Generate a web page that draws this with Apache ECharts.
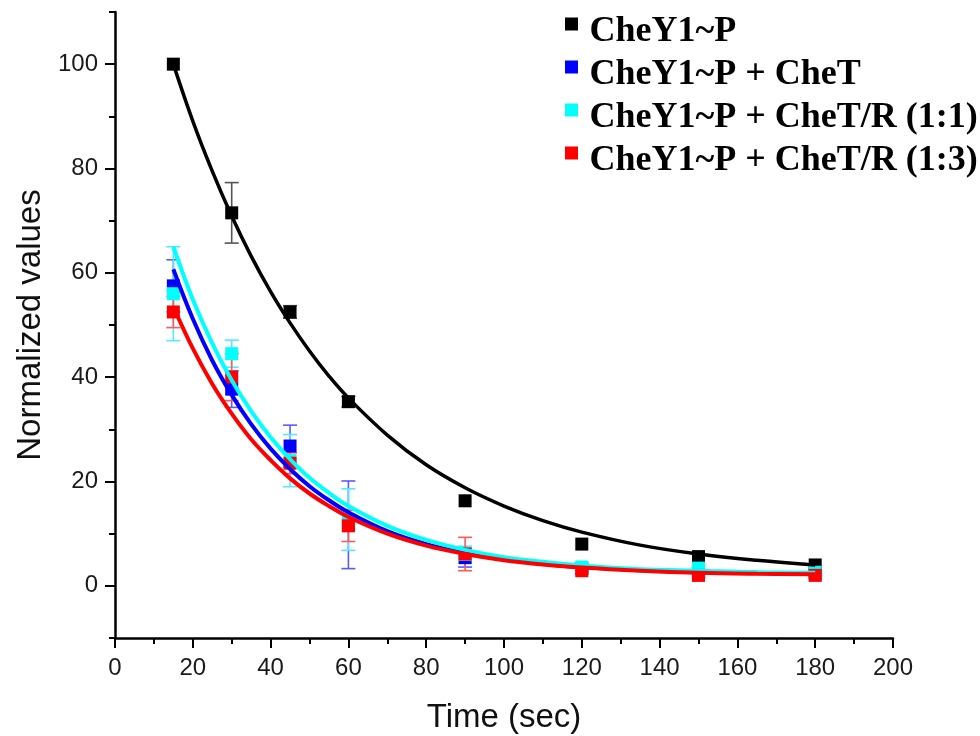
<!DOCTYPE html>
<html>
<head>
<meta charset="utf-8">
<script src="https://cdn.jsdelivr.net/npm/echarts@6/dist/echarts.min.js"></script>
<style>
html,body{margin:0;padding:0;background:#fff;}
#chart{width:980px;height:736px;}
</style>
</head>
<body>
<div id="chart"></div>
<script>
// ---- data ----
const seriesNames = ['CheY1~P', 'CheY1~P + CheT', 'CheY1~P + CheT/R (1:1)', 'CheY1~P + CheT/R (1:3)'];
const timePoints = [15, 30, 45, 60, 90, 120, 150, 180];

const blackVals = [100, 71.5, 52.5, 35.3, 16.3, 8.0, 5.6, 4.0];
const blackErr  = [0, 5.8, 1.2, 1.0, 0, 0, 0, 0];
const blueVals  = [57.5, 37.7, 26.8, 11.7, 5.4, 3.3, 2.6, 2.3];
const blueErr   = [5.0, 3.5, 4.0, 8.4, 1.8, 0.5, 0.4, 0.3];
const cyanVals  = [56.0, 44.5, 24.0, 12.7, 6.0, 3.6, 3.4, 2.6];
const cyanErr   = [9.0, 2.6, 5.0, 5.9, 1.6, 0.5, 0.4, 0.3];
const redVals   = [52.5, 40.0, 23.5, 11.5, 6.1, 2.9, 2.0, 2.0];
const redErr    = [3.0, 4.5, 2.0, 3.0, 3.2, 0.5, 0.4, 0.3];

// fitted curves
const fitTimes = [15, 20, 25, 30, 35, 40, 45, 50, 55, 60, 70, 80, 90, 100, 110, 120, 135, 150, 165, 180];
const blackFit = [100, 89.1, 79.5, 70.9, 63.2, 56.4, 50.4, 45.0, 40.2, 36.0, 28.9, 23.2, 18.8, 15.3, 12.5, 10.3, 7.8, 6.1, 4.9, 4.0];
const blueFit  = [60.7, 51.2, 43.2, 36.6, 31.0, 26.3, 22.4, 19.1, 16.4, 14.1, 10.5, 8.0, 6.3, 5.1, 4.2, 3.6, 3.0, 2.7, 2.5, 2.4];
const cyanFit  = [65.0, 54.9, 46.5, 39.4, 33.5, 28.5, 24.3, 20.7, 17.8, 15.3, 11.5, 8.8, 6.9, 5.5, 4.6, 3.9, 3.2, 2.9, 2.6, 2.5];
const redFit   = [53.5, 45.5, 38.7, 33.0, 28.1, 24.1, 20.6, 17.7, 15.3, 13.2, 10.0, 7.7, 6.1, 4.9, 4.1, 3.5, 2.9, 2.5, 2.3, 2.2];

const xTickLabels = [0, 20, 40, 60, 80, 100, 120, 140, 160, 180, 200];
const yTickLabels = [0, 20, 40, 60, 80, 100];
const yMinorTicks = [-10, 10, 30, 50, 70, 90, 110];

// ---- styles ----
const colors = ['#000000', '#0000ff', '#00ffff', '#ff0000'];
const errColors = ['#555555', '#5a5aff', '#55e8ff', '#ff5a5a'];
const sansFont = "'Liberation Sans', Arial, sans-serif";
const serifFont = "'Liberation Serif', 'Times New Roman', serif";
// legend square sitting in the upper part of its box (raised above the text centre)
const legendIcon = 'path://M0,0 L13,0 L13,13 L0,13 Z M6,29 L7,29 Z';

const valsList = [blackVals, blueVals, cyanVals, redVals];
const errList = [blackErr, blueErr, cyanErr, redErr];
const fitList = [blackFit, blueFit, cyanFit, redFit];

function pairs(xs, ys) { return xs.map((x, i) => [x, ys[i]]); }

const series = [];
// error bars
valsList.forEach((vals, k) => {
  const data = [];
  timePoints.forEach((t, i) => {
    if (errList[k][i] > 0) data.push([t, vals[i] - errList[k][i], vals[i] + errList[k][i]]);
  });
  series.push({
    name: 'err' + k,
    type: 'custom',
    z: 2,
    encode: { x: 0, y: [1, 2] },
    renderItem: function (params, api) {
      const x = api.value(0), lo = api.value(1), hi = api.value(2);
      const pTop = api.coord([x, hi]);
      const pBot = api.coord([x, lo]);
      const hw = 7;
      const st = { stroke: errColors[k], lineWidth: 1.6 };
      return {
        type: 'group',
        children: [
          { type: 'line', shape: { x1: pTop[0], y1: pTop[1], x2: pBot[0], y2: pBot[1] }, style: st },
          { type: 'line', shape: { x1: pTop[0] - hw, y1: pTop[1], x2: pTop[0] + hw, y2: pTop[1] }, style: st },
          { type: 'line', shape: { x1: pBot[0] - hw, y1: pBot[1], x2: pBot[0] + hw, y2: pBot[1] }, style: st }
        ]
      };
    },
    data: data
  });
});
// squares
valsList.forEach((vals, k) => {
  series.push({
    name: seriesNames[k],
    type: 'scatter',
    symbol: 'rect',
    symbolSize: 13,
    z: 3,
    itemStyle: { color: colors[k], opacity: 1 },
    data: pairs(timePoints, vals)
  });
});
// fit curves
fitList.forEach((fit, k) => {
  series.push({
    name: 'fit' + k,
    type: 'line',
    smooth: 0.4,
    showSymbol: false,
    symbol: 'none',
    z: 4,
    lineStyle: { color: colors[k], width: k === 0 ? 3.5 : 4 },
    data: pairs(fitTimes, fit)
  });
});

const chart = echarts.init(document.getElementById('chart'), null, { renderer: 'canvas' });
chart.setOption({
  backgroundColor: '#ffffff',
  animation: false,
  grid: { left: 115, right: 87, top: 12, bottom: 98, containLabel: false, outerBoundsMode: 'none' },
  legend: {
    data: seriesNames.map(n => ({ name: n, icon: legendIcon })),
    orient: 'vertical',
    left: 565,
    top: 14,
    padding: 0,
    itemWidth: 14,
    itemHeight: 29,
    itemGap: 7,
    selectedMode: false,
    textStyle: {
      fontFamily: serifFont,
      fontWeight: 'bold',
      fontSize: 36,
      lineHeight: 26,
      color: '#000',
      padding: [0, 0, 0, 6]
    }
  },
  xAxis: {
    type: 'value',
    min: 0,
    max: 200,
    interval: 20,
    name: 'Time (sec)',
    nameLocation: 'middle',
    nameGap: 63,
    nameTextStyle: { fontFamily: sansFont, fontSize: 33, color: '#111' },
    axisLine: { show: true, onZero: false, lineStyle: { color: '#000', width: 2.5 } },
    axisTick: { show: true, length: 10, lineStyle: { color: '#000', width: 2 } },
    minorTick: { show: true, splitNumber: 2, length: 6, lineStyle: { color: '#000', width: 2 } },
    splitLine: { show: false },
    minorSplitLine: { show: false },
    axisLabel: {
      fontFamily: sansFont, fontSize: 24, color: '#1a1a1a', margin: 18,
      customValues: xTickLabels
    }
  },
  yAxis: [
    {
      type: 'value',
      min: -10,
      max: 110,
      position: 'left',
      name: 'Normalized values',
      nameLocation: 'middle',
      nameGap: 68,
      nameTextStyle: { fontFamily: sansFont, fontSize: 33, color: '#111' },
      axisLine: { show: true, onZero: false, lineStyle: { color: '#000', width: 2.5 } },
      axisTick: { show: true, length: 10, lineStyle: { color: '#000', width: 2 }, customValues: yTickLabels },
      splitLine: { show: false },
      axisLabel: {
        fontFamily: sansFont, fontSize: 24, color: '#1a1a1a', margin: 17,
        customValues: yTickLabels
      }
    },
    {
      type: 'value',
      min: -10,
      max: 110,
      position: 'left',
      offset: 0,
      axisLine: { show: false },
      axisTick: { show: true, length: 6, lineStyle: { color: '#000', width: 2 }, customValues: yMinorTicks },
      axisLabel: { show: false, customValues: yMinorTicks },
      splitLine: { show: false }
    }
  ],
  series: series
});
</script>
</body>
</html>
